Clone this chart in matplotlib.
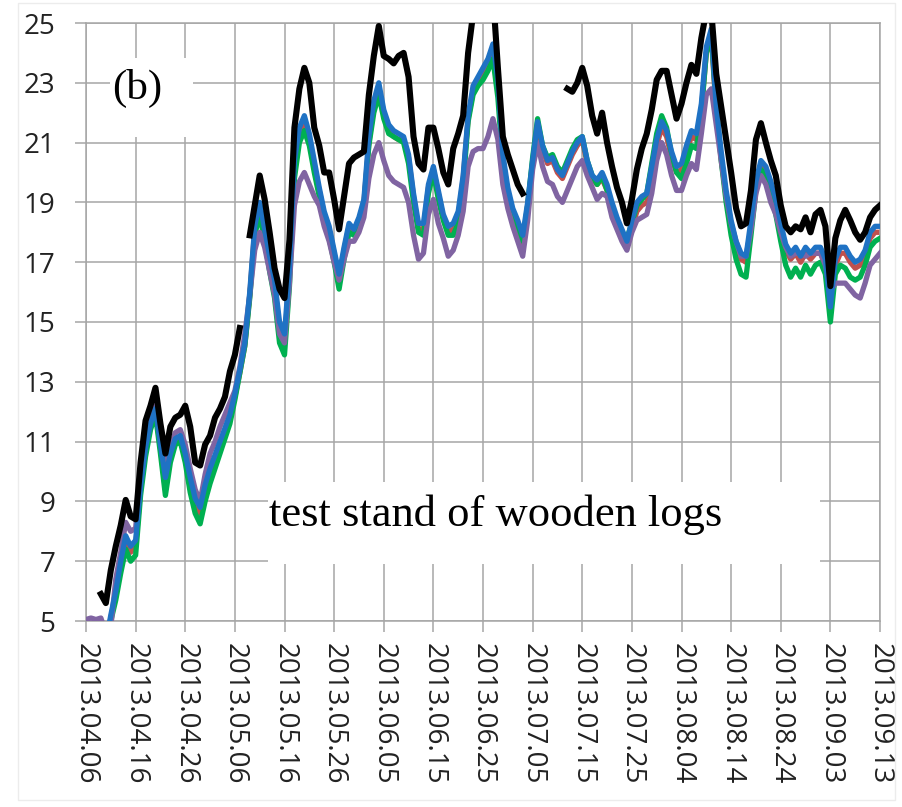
import matplotlib
matplotlib.use("Agg")
import matplotlib.pyplot as plt
import matplotlib.dates as mdates
from matplotlib.patches import Rectangle
import numpy as np
import pandas as pd

nan = np.nan

# daily values, 2013.04.06 .. 2013.09.13 (161 days)
dates = pd.date_range("2013-04-06", "2013-09-13", freq="D")

black = [
    nan, nan, nan, 5.9, 5.6, 6.7, 7.5, 8.2, 9.05, 8.5,
    8.4, 10.3, 11.7, 12.2, 12.8, 11.6, 10.6, 11.5, 11.8, 11.9,
    12.2, 11.5, 10.3, 10.2, 10.9, 11.2, 11.8, 12.1, 12.5, 13.35,
    13.9, 14.8, nan, 17.9, 18.9, 19.9, 19.1, 18.0, 16.8, 16.1,
    15.8, 17.75, 21.5, 22.8, 23.5, 23.0, 21.5, 20.9, 20.0, 20.0,
    19.1, 18.1, 19.2, 20.3, 20.5, 20.6, 20.7, 22.6, 23.9, 24.9,
    23.9, 23.8, 23.65, 23.9, 24.0, 23.2, 21.2, 20.3, 20.1, 21.5,
    21.5, 20.8, 20.0, 19.6, 20.8, 21.3, 21.9, 24.0, 25.3, 26.0,
    26.0, 26.0, 26.0, 23.5, 21.2, 20.6, 20.1, 19.6, 19.3, nan,
    nan, nan, nan, nan, nan, nan, nan, 22.8, 22.7, 23.0,
    23.5, 22.9, 21.9, 21.3, 22.0, 21.0, 20.2, 19.5, 19.0, 18.3,
    19.1, 20.1, 20.8, 21.3, 22.1, 23.1, 23.4, 23.4, 22.6, 21.8,
    22.3, 23.0, 23.6, 23.3, 24.5, 25.4, 25.4, 23.3, 22.2, 21.1,
    20.0, 18.8, 18.2, 18.3, 19.4, 21.1, 21.65, 21.0, 20.4, 19.9,
    18.9, 18.2, 18.0, 18.2, 18.1, 18.5, 18.0, 18.6, 18.75, 18.2,
    16.2, 17.8, 18.4, 18.75, 18.4, 18.0, 17.75, 18.0, 18.5, 18.75,
    18.9,
]

blue = [
    3.5, 3.5, 3.5, 3.5, 4.3, 5.2, 6.0, 7.0, 7.85, 7.5,
    7.7, 9.5, 10.8, 11.6, 12.1, 10.9, 9.8, 10.6, 11.1, 11.2,
    10.6, 9.8, 9.1, 8.8, 9.55, 10.1, 10.55, 11.0, 11.45, 11.9,
    12.6, 13.4, 14.3, 16.0, 18.2, 19.0, 18.1, 17.2, 16.4, 15.0,
    14.6, 16.8, 20.4, 21.5, 21.9, 21.3, 20.4, 19.5, 18.7, 18.2,
    17.4, 16.6, 17.5, 18.3, 18.1, 18.5, 19.1, 21.2, 22.4, 23.0,
    22.1, 21.6, 21.4, 21.3, 21.2, 20.6, 19.3, 18.3, 18.3, 19.6,
    20.2, 19.4, 18.6, 18.2, 18.3, 18.7, 19.9, 21.9, 22.9, 23.2,
    23.5, 23.8, 24.3, 23.1, 20.6, 19.5, 18.8, 18.4, 17.9, 19.0,
    20.4, 21.7, 20.9, 20.4, 20.5, 20.1, 19.9, 20.3, 20.7, 21.0,
    21.2, 20.4, 19.9, 19.75, 20.0, 19.6, 19.0, 18.5, 18.1, 17.7,
    18.4, 19.0, 19.2, 19.3, 20.2, 21.1, 21.7, 21.4, 20.7, 20.2,
    20.3, 20.9, 21.4, 21.3, 22.3, 24.2, 24.8, 22.2, 20.7, 19.4,
    18.4, 17.7, 17.3, 17.2, 18.4, 19.7, 20.4, 20.2, 19.7, 19.1,
    18.3, 17.6, 17.3, 17.5, 17.2, 17.5, 17.3, 17.5, 17.5, 17.1,
    15.5, 17.1, 17.5, 17.5, 17.2, 17.0, 17.1, 17.4, 18.0, 18.2,
    18.2,
]

red = [
    3.5, 3.5, 3.5, 3.5, 4.2, 5.1, 5.9, 6.9, 7.7, 7.3,
    7.5, 9.4, 10.7, 11.5, 12.0, 10.8, 9.4, 10.5, 11.0, 11.1,
    10.5, 9.6, 8.9, 8.6, 9.4, 9.9, 10.4, 10.8, 11.3, 11.8,
    12.5, 13.3, 14.2, 15.9, 18.1, 18.8, 17.9, 17.0, 16.2, 14.8,
    14.3, 16.6, 20.2, 21.3, 21.7, 21.1, 20.2, 19.4, 18.6, 18.1,
    17.3, 16.4, 17.4, 18.2, 18.0, 18.4, 19.0, 21.0, 22.2, 22.8,
    22.0, 21.4, 21.2, 21.1, 21.1, 20.5, 19.2, 18.1, 18.1, 19.5,
    20.1, 19.3, 18.5, 18.0, 18.1, 18.5, 19.8, 21.8, 22.7, 23.0,
    23.3, 23.6, 24.0, 22.9, 20.5, 19.3, 18.6, 18.2, 17.6, 18.9,
    20.3, 21.6, 20.8, 20.3, 20.4, 20.0, 19.8, 20.2, 20.6, 20.9,
    21.1, 20.3, 19.8, 19.6, 19.8, 19.4, 18.8, 18.3, 17.9, 17.5,
    18.1, 18.7, 18.9, 19.0, 19.9, 20.9, 21.5, 21.2, 20.5, 20.0,
    20.1, 20.7, 21.2, 21.1, 22.1, 24.0, 24.6, 22.0, 20.5, 19.2,
    18.2, 17.5, 17.1, 17.0, 18.2, 19.5, 20.2, 20.0, 19.5, 18.9,
    18.1, 17.4, 17.1, 17.3, 17.0, 17.3, 17.1, 17.3, 17.3, 16.9,
    15.4, 16.9, 17.3, 17.3, 17.0, 16.8, 16.9, 17.2, 17.8, 18.0,
    18.0,
]

green = [
    3.5, 3.5, 3.5, 3.5, 4.0, 5.0, 5.7, 6.6, 7.4, 7.0,
    7.2, 9.2, 10.5, 11.4, 11.9, 10.6, 9.2, 10.3, 10.9, 11.0,
    10.3, 9.3, 8.6, 8.25, 9.0, 9.6, 10.1, 10.6, 11.1, 11.6,
    12.4, 13.3, 14.2, 15.8, 17.9, 18.6, 17.7, 16.7, 15.8, 14.3,
    13.9, 16.2, 19.8, 21.0, 21.4, 20.9, 20.0, 19.2, 18.4, 17.8,
    17.0, 16.1, 17.1, 18.0, 17.9, 18.3, 18.9, 20.9, 22.0, 22.6,
    21.8, 21.3, 21.2, 21.1, 21.0, 20.3, 19.0, 18.0, 17.9, 19.3,
    20.0, 19.1, 18.4, 17.9, 17.9, 18.3, 19.6, 21.7, 22.6, 22.9,
    23.1, 23.4, 23.8, 22.5, 20.3, 19.2, 18.6, 18.1, 17.7, 18.9,
    20.5, 21.8, 20.9, 20.5, 20.6, 20.2, 20.0, 20.4, 20.8, 21.1,
    21.2, 20.4, 19.9, 19.6, 19.9, 19.4, 18.8, 18.3, 18.0, 17.8,
    18.3, 18.9, 19.1, 19.3, 20.3, 21.3, 21.9, 21.5, 20.6, 20.0,
    19.8, 20.3, 20.9, 20.8, 22.0, 24.0, 24.6, 22.2, 20.4, 19.0,
    17.9, 17.1, 16.6, 16.5, 17.9, 19.4, 20.1, 19.9, 19.3, 18.6,
    17.7, 16.9, 16.5, 16.8, 16.5, 16.9, 16.6, 16.9, 17.0, 16.6,
    15.0, 16.6, 16.9, 16.8, 16.5, 16.4, 16.5, 16.9, 17.5, 17.7,
    17.8,
]

purple = [
    5.05, 5.1, 5.05, 5.1, 4.6, 4.8, 6.4, 7.3, 8.3, 8.0,
    8.1, 10.0, 11.1, 11.8, 12.2, 11.1, 10.0, 10.8, 11.3, 11.4,
    10.9, 10.1, 9.4, 9.0, 9.9, 10.6, 11.0, 11.5, 11.9, 12.3,
    12.7, 13.5, 14.6, 15.9, 17.4, 18.0, 17.5, 16.7, 15.9, 14.6,
    14.3, 16.3, 18.9, 19.7, 20.0, 19.6, 19.2, 18.9, 18.2, 17.7,
    17.0, 16.4, 17.1, 17.7, 17.7, 18.0, 18.5, 19.8, 20.6, 21.0,
    20.4, 19.9, 19.7, 19.6, 19.5, 19.0, 17.9, 17.1, 17.3, 18.6,
    19.1, 18.3, 17.8, 17.2, 17.4, 17.9, 18.7, 20.2, 20.7, 20.8,
    20.8, 21.2, 21.8, 21.1, 19.6, 18.8, 18.2, 17.7, 17.2, 18.4,
    20.1, 21.0, 20.2, 19.7, 19.6, 19.2, 19.0, 19.4, 19.8, 20.2,
    20.4, 19.9, 19.5, 19.1, 19.3, 19.2, 18.5, 18.1, 17.7, 17.4,
    18.0, 18.4, 18.5, 18.6, 19.3, 20.4, 21.0, 20.6, 19.9, 19.4,
    19.4, 19.9, 20.3, 20.1, 21.3, 22.6, 22.8, 21.6, 20.4, 19.2,
    18.3, 17.7, 17.2, 17.2, 18.1, 19.3, 19.9, 19.6, 19.0, 18.6,
    18.0, 17.5, 17.2, 17.3, 17.3, 17.2, 17.3, 17.3, 17.3, 16.9,
    16.0, 16.3, 16.3, 16.3, 16.1, 15.9, 15.8, 16.3, 16.9, 17.1,
    17.3,
]

tick_dates = pd.date_range("2013-04-06", "2013-09-13", freq="10D")
y_ticks = [5, 7, 9, 11, 13, 15, 17, 19, 21, 23, 25]

W, H = 903, 807
fig = plt.figure(figsize=(W / 100, H / 100), dpi=100)
ax = fig.add_axes([86 / W, 1 - 621 / H, (880 - 86) / W, (621 - 23) / H])

grid_c = "#a6a6a6"
lw = 3.8
ax.plot(dates, red, color="#c0504d", lw=lw, zorder=2)
ax.plot(dates, green, color="#00b050", lw=lw, zorder=3)
ax.plot(dates, purple, color="#8064a2", lw=lw, zorder=4)
ax.plot(dates, blue, color="#1f72c4", lw=lw, zorder=5)
ax.plot(dates, black, color="black", lw=lw + 0.6, zorder=6)

ax.set_xlim(dates[0], dates[-1])
ax.set_ylim(5, 25)
ax.set_yticks(y_ticks)
ax.set_xticks(tick_dates)
ax.xaxis.set_major_formatter(mdates.DateFormatter("%Y.%m.%d"))

ax.set_axisbelow(True)
ax.grid(True, color=grid_c, lw=1.1)
for s in ax.spines.values():
    s.set_color(grid_c)
    s.set_linewidth(1.1)
ax.tick_params(axis="both", color=grid_c, width=1.1, length=8,
               labelsize=20, labelcolor="#222222")
ax.tick_params(axis="y", pad=14)
ax.tick_params(axis="x", pad=8)
for lab in ax.get_xticklabels():
    lab.set_rotation(270)
    lab.set_ha("center")
    lab.set_va("top")
    lab.set_family("Open Sans")
for lab in ax.get_yticklabels():
    lab.set_family("Open Sans")

# white label boxes covering the grid
ax.add_patch(Rectangle((110 / W, 1 - 137 / H), 83 / W, 79 / H, transform=fig.transFigure,
                       facecolor="white", edgecolor="none", zorder=1))
ax.add_patch(Rectangle((268 / W, 1 - 564 / H), 552 / W, 82 / H, transform=fig.transFigure,
                       facecolor="white", edgecolor="none", zorder=1))
fig.text(137 / W, 1 - 88 / H, "(b)", fontsize=31, family="Liberation Serif",
         ha="center", va="center")
fig.text(496 / W, 1 - 515 / H, "test stand of wooden logs", fontsize=32,
         family="Liberation Serif", ha="center", va="center")

# faint outer frame
fig.patches.append(Rectangle((18 / W, 1 - 800 / H), 877 / W, 797 / H, transform=fig.transFigure,
                             facecolor="none", edgecolor="#ececec", lw=1, zorder=0))

fig.savefig("out.png", dpi=100)
